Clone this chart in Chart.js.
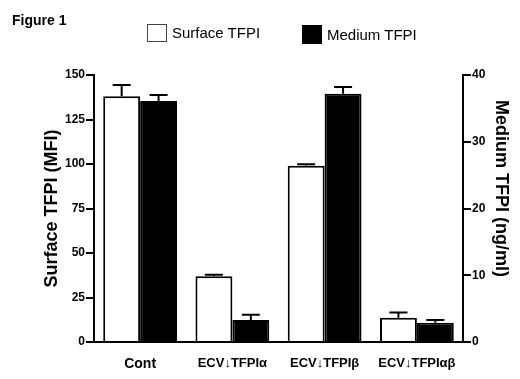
<!DOCTYPE html>
<html>
<head>
<meta charset="utf-8">
<script src="https://cdn.jsdelivr.net/npm/chart.js@4"></script>
<style>
  html, body { margin: 0; padding: 0; background: #fff; }
  #wrap { position: relative; width: 520px; height: 379px; font-family: "Liberation Sans", Arial, sans-serif; color: #000; }
  #c { position: absolute; left: 0; top: 0; }
  .txt { position: absolute; white-space: nowrap; line-height: 1; }
  .box { position: absolute; box-sizing: border-box; }
</style>
</head>
<body>
<div id="wrap">
  <canvas id="c" width="520" height="379"></canvas>
  <div class="txt" style="left:12px; top:13px; font-size:14px; font-weight:bold;">Figure 1</div>
  <div class="box" style="left:147px; top:24px; width:20px; height:18px; border:1.5px solid #444; background:#fff;"></div>
  <div class="txt" style="left:172px; top:25px; font-size:15px;">Surface TFPI</div>
  <div class="box" style="left:302px; top:25px; width:20px; height:19px; background:#000;"></div>
  <div class="txt" style="left:327px; top:27px; font-size:15px;">Medium TFPI</div>
</div>
<script>
const categories = ['Cont', 'ECV\u2193TFPI\u03b1', 'ECV\u2193TFPI\u03b2', 'ECV\u2193TFPI\u03b1\u03b2'];
const surfaceTFPI = [138, 37, 99, 13.6];
const surfaceErr = [6.4, 0.8, 0.9, 3.0];
const mediumTFPI = [36.1, 3.3, 37.2, 2.9];
const mediumErr = [0.9, 0.8, 1.0, 0.4];
const leftTicks = [0, 25, 50, 75, 100, 125, 150];
const rightTicks = [0, 10, 20, 30, 40];
const seriesNames = ['Surface TFPI', 'Medium TFPI'];
const rightTitle = 'Medium TFPI (ng/ml)';
const leftTitle = 'Surface TFPI (MFI)';

const FAMILY = '"Liberation Sans", Arial, sans-serif';
Chart.defaults.font.family = FAMILY;
Chart.defaults.color = '#000';

const errors = [surfaceErr, mediumErr];

const errorBarPlugin = {
  id: 'errorBars',
  afterDatasetsDraw(chart) {
    const ctx = chart.ctx;
    ctx.save();
    ctx.strokeStyle = '#000';
    ctx.lineWidth = 2;
    chart.data.datasets.forEach((ds, i) => {
      const meta = chart.getDatasetMeta(i);
      const scale = chart.scales[ds.yAxisID];
      meta.data.forEach((bar, j) => {
        const v = ds.data[j];
        const e = errors[i][j];
        const yTop = scale.getPixelForValue(v + e);
        const half = 9;
        ctx.beginPath();
        ctx.moveTo(bar.x, bar.y);
        ctx.lineTo(bar.x, yTop);
        ctx.moveTo(bar.x - half, yTop);
        ctx.lineTo(bar.x + half, yTop);
        ctx.stroke();
      });
    });
    ctx.restore();
  }
};

const rightTitlePlugin = {
  id: 'rightTitle',
  afterDraw(chart) {
    const s = chart.scales.y1;
    const ctx = chart.ctx;
    ctx.save();
    ctx.font = 'bold 18px ' + FAMILY;
    ctx.fillStyle = '#000';
    ctx.textAlign = 'center';
    ctx.textBaseline = 'middle';
    ctx.translate(s.right - 19, (chart.chartArea.top + chart.chartArea.bottom) / 2 - 20);
    ctx.rotate(Math.PI / 2);
    ctx.fillText(rightTitle, 0, 0);
    ctx.restore();
  }
};

new Chart(document.getElementById('c'), {
  type: 'bar',
  data: {
    labels: categories,
    datasets: [
      {
        label: seriesNames[0],
        data: surfaceTFPI,
        yAxisID: 'y',
        backgroundColor: '#fff',
        borderColor: '#000',
        borderWidth: 2
      },
      {
        label: seriesNames[1],
        data: mediumTFPI,
        yAxisID: 'y1',
        backgroundColor: '#000',
        borderColor: '#000',
        borderWidth: 2
      }
    ]
  },
  options: {
    responsive: false,
    animation: false,
    devicePixelRatio: 1,
    layout: { padding: { top: 75, left: 0, right: 0, bottom: 0 } },
    datasets: { bar: { categoryPercentage: 0.8, barPercentage: 1.0 } },
    plugins: {
      legend: { display: false },
      tooltip: { enabled: false },
      title: { display: false }
    },
    scales: {
      x: {
        grid: { display: false, drawTicks: false },
        border: { display: true, color: '#000', width: 2 },
        ticks: {
          color: '#000',
          padding: 14,
          font: (c) => c.index === 0 ? { size: 14, weight: 'bold' } : { size: 13, weight: 'bold' }
        },
        afterFit: (s) => { s.height = 37; }
      },
      y: {
        position: 'left',
        min: 0,
        max: 150,
        afterBuildTicks: (s) => { s.ticks = leftTicks.map(v => ({ value: v })); },
        ticks: { color: '#000', padding: 1, font: { size: 12, weight: 'bold' } },
        grid: { drawOnChartArea: false, color: '#000', lineWidth: 2, tickLength: 8 },
        border: { display: true, color: '#000', width: 2 },
        title: {
          display: true,
          text: leftTitle,
          color: '#000',
          font: { size: 18, weight: 'bold' },
          padding: { top: 41, bottom: 0 }
        },
        afterFit: (s) => { s.width = 94; }
      },
      y1: {
        position: 'right',
        min: 0,
        max: 40,
        afterBuildTicks: (s) => { s.ticks = rightTicks.map(v => ({ value: v })); },
        ticks: { color: '#000', padding: 1, font: { size: 12, weight: 'bold' } },
        grid: { drawOnChartArea: false, color: '#000', lineWidth: 2, tickLength: 8 },
        border: { display: true, color: '#000', width: 2 },
        afterFit: (s) => { s.width = 57; }
      }
    }
  },
  plugins: [errorBarPlugin, rightTitlePlugin]
});
</script>
</body>
</html>
